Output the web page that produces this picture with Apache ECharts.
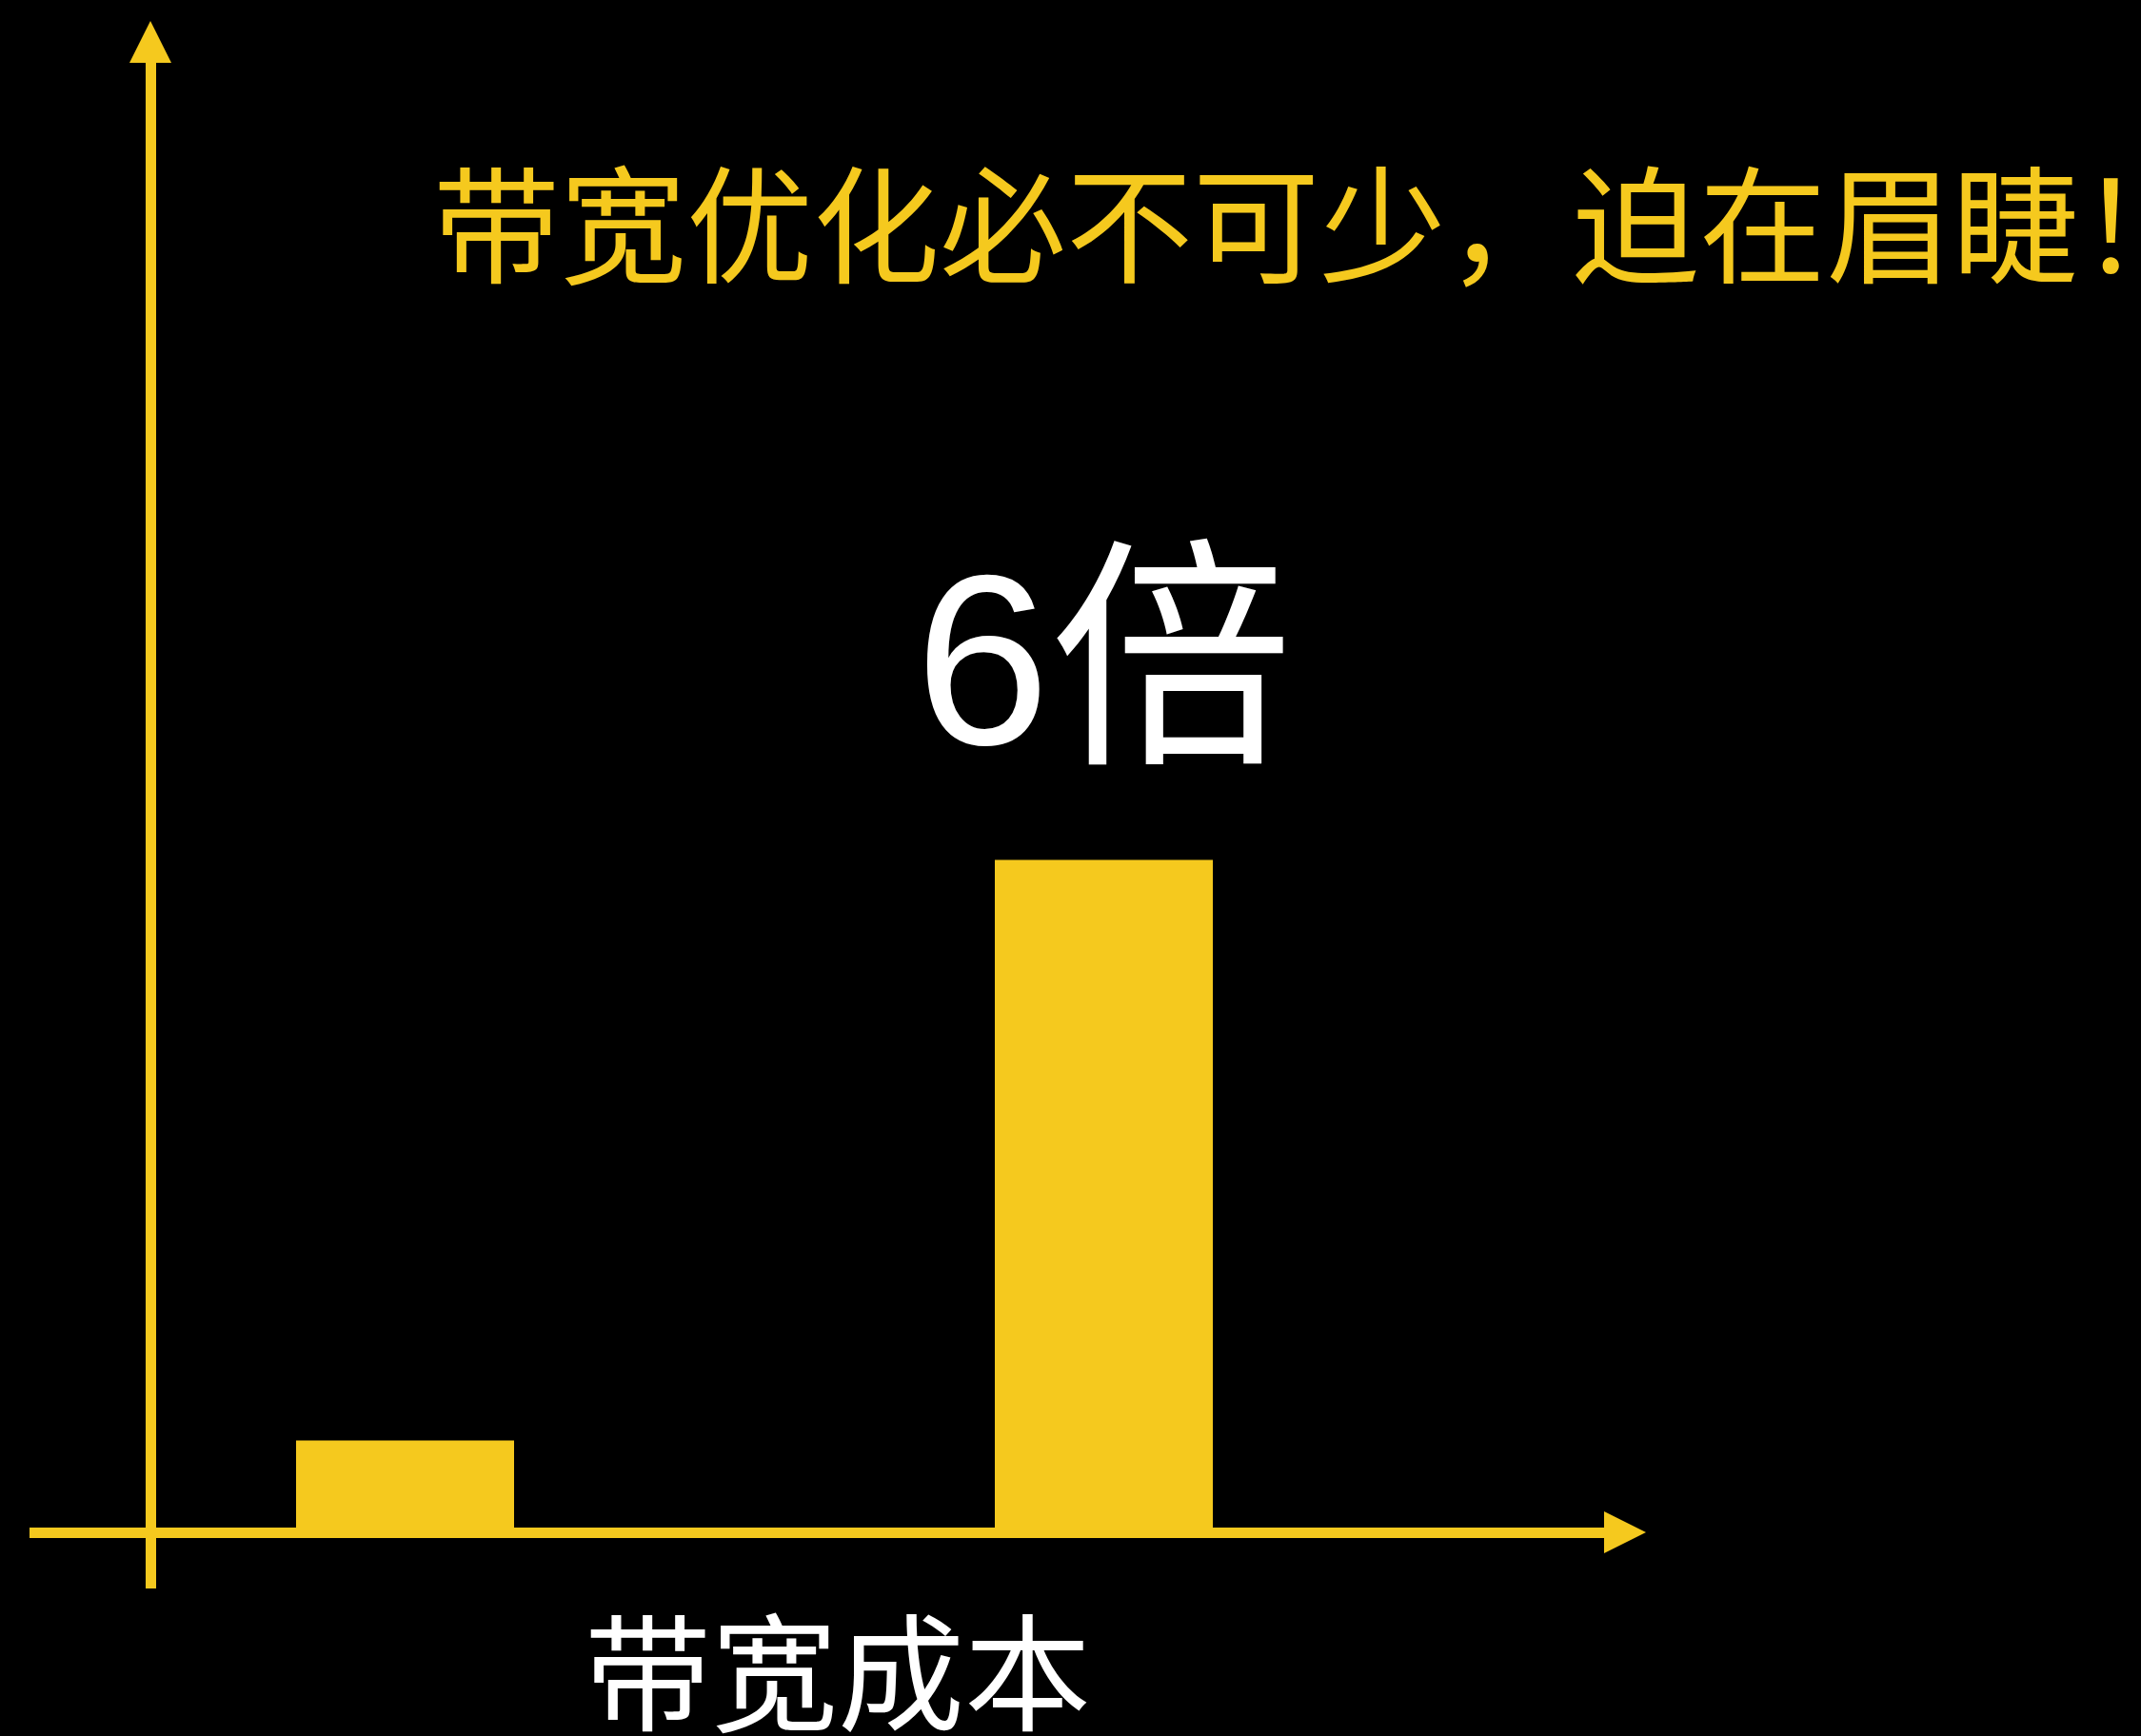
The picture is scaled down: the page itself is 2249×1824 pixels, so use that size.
<!DOCTYPE html>
<html>
<head>
<meta charset="utf-8">
<title>带宽成本</title>
<script src="https://cdn.jsdelivr.net/npm/echarts@6/dist/echarts.min.js"></script>
<style>
  html, body { margin: 0; padding: 0; background: #000; }
  #chart { width: 2249px; height: 1824px; }
</style>
</head>
<body>
<div id="chart"></div>
<script>
// Chart content
const headline = '带宽优化必不可少，迫在眉睫！';
const axisName = '带宽成本';
const categories = ['基准', '当前'];
const costValues = [0.82, 6];
const valueSuffix = '倍';
const labelledIndex = [1];

const YELLOW = '#F5C91E';
const CJK = '"Noto Sans CJK SC", "Noto Sans CJK JP", sans-serif';

const chart = echarts.init(document.getElementById('chart'), null, { renderer: 'canvas' });

const yRange = { min: -0.5, max: 13.3 };

chart.setOption({
  backgroundColor: '#000',
  animation: false,
  title: {
    text: headline,
    left: 455,
    top: 170,
    padding: 0,
    textStyle: { color: YELLOW, fontSize: 133, fontWeight: 'normal', fontFamily: CJK }
  },
  grid: [
    // frame grid: carries the two arrowed axes
    { left: 31, right: 542, top: 44, bottom: 155, outerBoundsMode: 'none', containLabel: false },
    // bar grid: same vertical scale, narrower horizontal band
    { left: 58.5, right: 722.5, top: 44, bottom: 155, outerBoundsMode: 'none', containLabel: false }
  ],
  xAxis: [
    {
      gridIndex: 0,
      type: 'category',
      data: [''],
      axisLine: {
        show: true, onZero: true,
        symbol: ['none', 'triangle'], symbolSize: [44, 44],
        lineStyle: { color: YELLOW, width: 11, cap: 'butt' }
      },
      axisTick: { show: false },
      axisLabel: { show: false },
      splitLine: { show: false },
      name: axisName,
      nameLocation: 'middle',
      nameGap: 22,
      nameTextStyle: { color: '#fff', fontSize: 133, fontFamily: CJK, padding: [0, 0, 0, 22] }
    },
    {
      gridIndex: 1,
      type: 'category',
      data: categories,
      show: false
    }
  ],
  yAxis: [
    {
      gridIndex: 0,
      type: 'value',
      min: yRange.min, max: yRange.max,
      offset: -127,
      axisLine: {
        show: true, onZero: false,
        symbol: ['none', 'triangle'], symbolSize: [44, 44],
        lineStyle: { color: YELLOW, width: 11, cap: 'butt' }
      },
      axisTick: { show: false },
      axisLabel: { show: false },
      splitLine: { show: false }
    },
    {
      gridIndex: 1,
      type: 'value',
      min: yRange.min, max: yRange.max,
      show: false,
      splitLine: { show: false }
    }
  ],
  series: [{
    type: 'bar',
    xAxisIndex: 1,
    yAxisIndex: 1,
    barWidth: 229,
    itemStyle: { color: YELLOW },
    data: costValues.map((v, i) => ({
      value: v,
      label: { show: labelledIndex.includes(i) }
    })),
    label: {
      position: 'top',
      distance: 64,
      formatter: p => p.value + valueSuffix,
      color: '#fff',
      fontSize: 255,
      fontFamily: '"Liberation Sans", "Noto Sans CJK SC", sans-serif'
    }
  }]
});
</script>
</body>
</html>
